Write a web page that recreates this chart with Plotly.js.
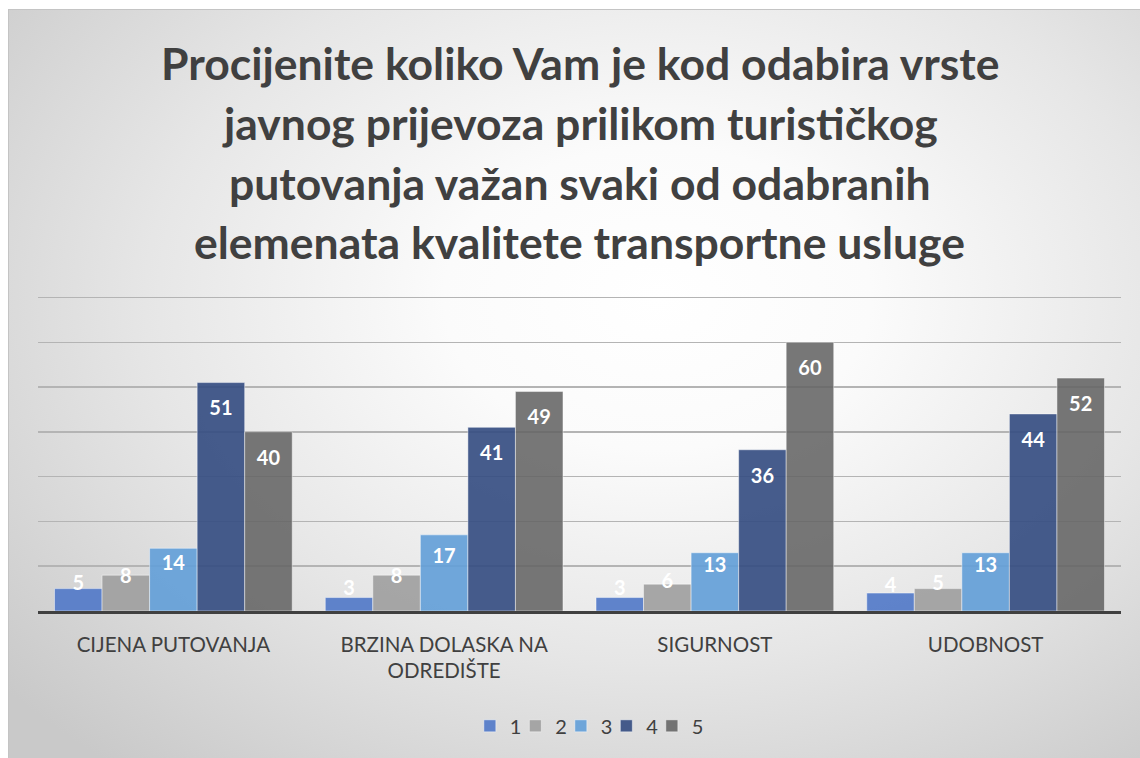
<!DOCTYPE html>
<html>
<head>
<meta charset="utf-8">
<script src="https://cdn.plot.ly/plotly-3.0.1.min.js"></script>
<style>
  html, body { margin: 0; padding: 0; background: #ffffff; }
  #wrap { position: relative; width: 1140px; height: 758px; overflow: hidden; }
  #bg { position: absolute; left: 8px; top: 9px; width: 1140px; height: 760px;
        border: 1px solid #c4c4c4; box-sizing: border-box;
        background: radial-gradient(ellipse 75% 80% at 57% 38%, #ffffff 0%, #fbfbfb 25%, #e6e6e6 60%, #c9c9c9 100%); }
  #chart { position: absolute; left: 0; top: 0; width: 1140px; height: 758px; }
</style>
</head>
<body>
<div id="wrap"><div id="bg"></div><div id="chart"></div></div>
<script>
const categories = ["CIJENA PUTOVANJA", "BRZINA DOLASKA NA<br>ODREDIŠTE", "SIGURNOST", "UDOBNOST"];
const seriesNames = ["1", "2", "3", "4", "5"];
const values1 = [5, 3, 3, 4];
const values2 = [8, 8, 6, 5];
const values3 = [14, 17, 13, 13];
const values4 = [51, 41, 36, 44];
const values5 = [40, 49, 60, 52];
const titleLines = [
  "Procijenite koliko Vam je kod odabira vrste",
  "javnog prijevoza prilikom turističkog",
  "putovanja važan svaki od odabranih",
  "elemenata kvalitete transportne usluge"
];

const allValues = [values1, values2, values3, values4, values5];
const colors = ["rgba(82,122,200,0.92)", "rgba(160,160,160,0.92)", "rgba(100,159,216,0.92)", "rgba(54,78,130,0.92)", "rgba(100,100,100,0.88)"];
const GAP = 0.122;
const FONT = "Lato, 'Open Sans', sans-serif";

const traces = [];
allValues.forEach((vals, i) => {
  traces.push({
    type: "bar", name: seriesNames[i], x: categories, y: vals,
    offsetgroup: "g" + i, alignmentgroup: "a",
    marker: { color: colors[i], line: { color: "rgba(255,255,255,0.45)", width: 1 } },
    hoverinfo: "x+y+name"
  });
});
allValues.forEach((vals, i) => {
  traces.push({
    type: "scatter", mode: "text", x: categories,
    y: vals.map(v => Math.max(v - 6.2, 0.5 * v + 3.3)),
    text: vals.map(String),
    textposition: "middle center",
    textfont: { family: FONT, size: 20, color: "#ffffff", weight: "bold" },
    offsetgroup: "g" + i, alignmentgroup: "a",
    showlegend: false, hoverinfo: "skip", cliponaxis: false
  });
});

// 70 units span 314 px (gridline at 70 sits at y=297); extend range slightly so top grid is drawn
const plotBottom = 611, pxPerUnit = 314 / 70, yMax = 71;
const plotTop = plotBottom - yMax * pxPerUnit;
const plotH = plotBottom - plotTop;
const titleY = [62, 122, 182, 241];
const annotations = titleLines.map((t, k) => ({
  text: "<b>" + t + "</b>", xref: "paper", yref: "paper",
  x: 0.5, y: (plotBottom - titleY[k]) / plotH, xanchor: "center", yanchor: "middle",
  showarrow: false,
  font: { family: FONT, size: 44.5, color: "#404040" }
}));

const layout = {
  width: 1140, height: 758,
  paper_bgcolor: "rgba(0,0,0,0)", plot_bgcolor: "rgba(0,0,0,0)",
  margin: { l: 38, r: 19, t: plotTop, b: 758 - plotBottom, pad: 0 },
  barmode: "group", bargap: GAP, bargroupgap: 0,
  scattermode: "group", scattergap: GAP,
  showlegend: true,
  legend: { orientation: "h", x: 0.504, xanchor: "center", y: (plotBottom - 726) / plotH, yanchor: "middle",
            font: { family: FONT, size: 20, color: "#404040" },
            bgcolor: "rgba(0,0,0,0)", itemwidth: 30, entrywidth: 0.5, entrywidthmode: "pixels",
            traceorder: "normal" },
  xaxis: { type: "category", showgrid: false, showline: true, linecolor: "#404040", linewidth: 3,
           ticks: "", ticklabelstandoff: 13,
           tickfont: { family: FONT, size: 20.5, color: "#404040" } },
  yaxis: { range: [0, yMax], dtick: 10, showticklabels: false, showgrid: true,
           gridcolor: "#b4b4b4", gridwidth: 1.5, zeroline: false, fixedrange: true },
  annotations: annotations
};

Plotly.newPlot("chart", traces, layout, { displayModeBar: false, staticPlot: true }).then(gd => {
  gd.querySelectorAll(".legend .scrollbox, .legend").forEach(el => el.removeAttribute("clip-path"));
});
</script>
</body>
</html>
